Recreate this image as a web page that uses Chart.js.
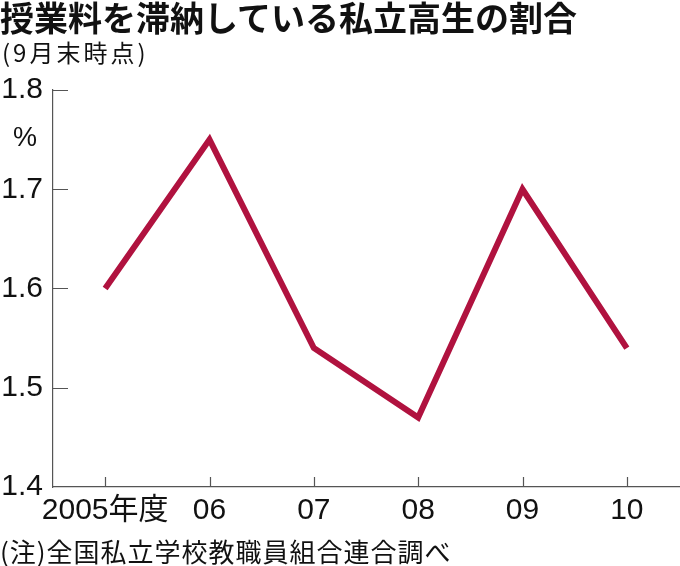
<!DOCTYPE html>
<html>
<head>
<meta charset="utf-8">
<script src="https://cdn.jsdelivr.net/npm/chart.js@4"></script>
<style>
  html, body { margin: 0; padding: 0; background: #fff; }
  #wrap { position: relative; width: 680px; height: 566px; overflow: hidden; }
  #c { position: absolute; left: 0; top: 0; }
  .txt { position: absolute; white-space: nowrap; color: #111; line-height: 1;
         font-family: "Noto Sans CJK JP", sans-serif; }
  #title { left: 0; top: 0; font-size: 34px; font-weight: bold; }
  #sub { left: 2px; top: 40px; font-size: 24px; letter-spacing: 3px; }
  #unit { left: 13px; top: 124px; font-size: 27px; font-family: "Liberation Sans", sans-serif; }
  #note { left: 0; top: 538px; font-size: 26px; letter-spacing: 1px; }
</style>
</head>
<body>
<div id="wrap">
  <canvas id="c" width="680" height="566"></canvas>
  <div class="txt" id="title">授業料を滞納している私立高生の割合</div>
  <div class="txt" id="sub">(9月末時点)</div>
  <div class="txt" id="unit">%</div>
  <div class="txt" id="note">(注)全国私立学校教職員組合連合調べ</div>
</div>
<script>
// Data
const years = ["2005年度", "06", "07", "08", "09", "10"];
const rates = [1.60, 1.75, 1.54, 1.47, 1.70, 1.54];
const yTicks = [1.4, 1.5, 1.6, 1.7, 1.8];

const axisColor = "#555";
const tickFont = { family: "'Liberation Sans', 'Noto Sans CJK JP', sans-serif", size: 30 };

// short tick marks drawn inside the plot area
const innerTicks = {
  id: "innerTicks",
  afterDraw(chart) {
    const ctx = chart.ctx;
    const x = chart.scales.x, y = chart.scales.y;
    const area = chart.chartArea;
    ctx.save();
    ctx.strokeStyle = axisColor;
    ctx.lineWidth = 1.2;
    ctx.beginPath();
    yTicks.forEach(v => {
      const py = Math.round(y.getPixelForValue(v)) + 0.5;
      if (v === yTicks[0]) return;
      ctx.moveTo(area.left, py);
      ctx.lineTo(area.left + 15, py);
    });
    years.forEach((_, i) => {
      const px = Math.round(x.getPixelForValue(i)) + 0.5;
      ctx.moveTo(px, area.bottom);
      ctx.lineTo(px, area.bottom - 10);
    });
    ctx.stroke();
    ctx.restore();
  }
};

new Chart(document.getElementById("c"), {
  type: "line",
  data: {
    labels: years,
    datasets: [{
      data: rates,
      borderColor: "#b0123f",
      borderWidth: 6,
      borderJoinStyle: "miter",
      pointRadius: 0,
      tension: 0,
      fill: false
    }]
  },
  options: {
    responsive: false,
    animation: false,
    layout: { padding: { top: 90, right: 1, bottom: 39, left: 0 } },
    plugins: { legend: { display: false }, tooltip: { enabled: false } },
    scales: {
      x: {
        type: "category",
        offset: true,
        grid: { display: false, drawTicks: false },
        border: { display: true, color: axisColor, width: 1.2 },
        ticks: { color: "#111", font: tickFont, padding: 6, maxRotation: 0, autoSkip: false },
        afterFit(s) { s.height = 40; }
      },
      y: {
        min: 1.4,
        max: 1.8,
        afterBuildTicks(s) { s.ticks = yTicks.map(v => ({ value: v })); },
        grid: { display: false, drawTicks: false },
        border: { display: true, color: axisColor, width: 1.2 },
        ticks: { color: "#111", font: tickFont, padding: 10, callback: v => v.toFixed(1) },
        afterFit(s) { s.width = 53; }
      }
    }
  },
  plugins: [innerTicks]
});
</script>
</body>
</html>
